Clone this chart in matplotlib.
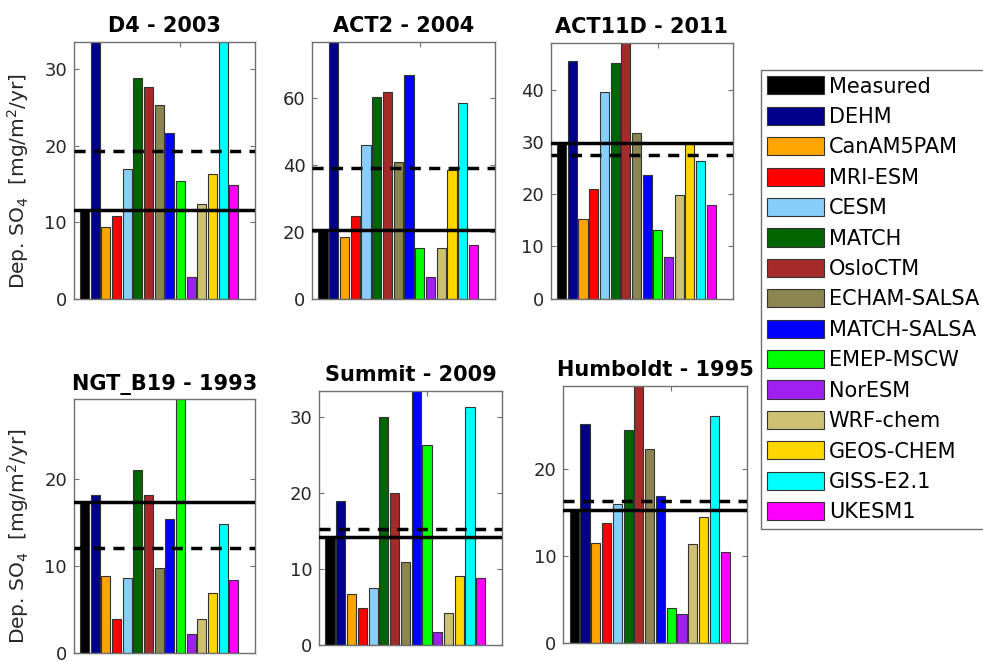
import numpy as np
import matplotlib.pyplot as plt
from matplotlib.patches import Patch

# DATA
sites = ["D4 - 2003", "ACT2 - 2004", "ACT11D - 2011",
         "NGT_B19 - 1993", "Summit - 2009", "Humboldt - 1995"]

models = ["DEHM", "CanAM5PAM", "MRI-ESM", "CESM", "MATCH", "OsloCTM",
          "ECHAM-SALSA", "MATCH-SALSA", "EMEP-MSCW", "NorESM", "WRF-chem",
          "GEOS-CHEM", "GISS-E2.1", "UKESM1"]

measured = [11.6, 20.5, 29.9, 17.4, 14.2, 15.2]

d4 = [33.5, 9.4, 10.8, 16.9, 28.8, 27.6, 25.3, 21.6, 15.4, 2.8, 12.4, 16.3, 33.5, 14.9]
act2 = [76.6, 18.4, 24.7, 45.9, 60.2, 61.7, 40.8, 66.9, 15.2, 6.4, 15.1, 38.4, 58.3, 16.1]
act11d = [45.6, 15.3, 21.1, 39.7, 45.3, 49.2, 31.8, 23.7, 13.2, 8.0, 19.8, 29.8, 26.4, 18.0]
ngt_b19 = [18.2, 8.9, 3.9, 8.7, 21.1, 18.2, 9.8, 15.4, 29.2, 2.2, 3.9, 6.9, 14.9, 8.4]
summit = [18.9, 6.75, 4.8, 7.5, 30.0, 20.0, 10.9, 33.4, 26.3, 1.75, 4.25, 9.0, 31.2, 8.76]
humboldt = [25.1, 11.5, 13.7, 15.9, 24.4, 29.5, 22.3, 16.9, 4.0, 3.3, 11.3, 14.4, 26.0, 10.4]

site_models = [d4, act2, act11d, ngt_b19, summit, humboldt]
yticks = [[0, 10, 20, 30], [0, 20, 40, 60], [0, 10, 20, 30, 40],
          [0, 10, 20], [0, 10, 20, 30], [0, 10, 20]]

colors = ["#000000", "#00008B", "#FFA500", "#FF0000", "#87CEFA", "#006400",
          "#A52A2A", "#8B8550", "#0000FF", "#00FF00", "#A020F0", "#CDC073",
          "#FFD700", "#00FFFF", "#FF00FF"]

# axes boxes in figure fractions [left, bottom, width, height]
positions = [[0.0753, 0.5477, 0.1841, 0.3888],
             [0.3177, 0.5477, 0.1859, 0.3888],
             [0.5605, 0.5484, 0.1848, 0.3873],
             [0.0753, 0.0117, 0.1841, 0.3843],
             [0.3248, 0.0242, 0.1862, 0.3847],
             [0.5731, 0.0277, 0.1866, 0.3883]]

fig = plt.figure(figsize=(9.83, 6.61), dpi=100)
box_col = "#707070"

for i, site in enumerate(sites):
    ax = fig.add_axes(positions[i])
    vals = [measured[i]] + site_models[i]
    x = np.arange(1, len(vals) + 1)
    ax.bar(x, vals, width=0.85, color=colors, edgecolor="#333333", linewidth=0.8, zorder=2)
    # measured value (solid) and model mean (dashed)
    ax.axhline(measured[i], color="black", lw=2.5, zorder=3)
    ax.axhline(np.mean(site_models[i]), color="black", lw=2.5,
               linestyle=(0, (3.2, 2.4)), zorder=3)
    ax.set_xlim(0, 17)
    ax.set_ylim(0, max(vals))
    ax.set_xticks([10])
    ax.set_xticklabels([])
    ax.set_yticks(yticks[i])
    ax.tick_params(direction="in", length=3.5, width=0.8, color=box_col,
                   top=True, right=True, labelsize=13, labelcolor="#262626", pad=5)
    for sp in ax.spines.values():
        sp.set_color(box_col)
        sp.set_linewidth(1.0)
    ax.set_title(site, fontsize=15, fontweight="bold", pad=7)
    if i % 3 == 0:
        ax.set_ylabel("Dep. SO$_4$  [mg/m$^2$/yr]", fontsize=14.5, color="#262626")
        ax.yaxis.set_label_coords(-0.24, 0.46)

handles = [Patch(facecolor=c, edgecolor="#333333", linewidth=0.8) for c in colors]
leg = fig.legend(handles, ["Measured"] + models, loc="upper left",
                 bbox_to_anchor=(0.774, 0.894), bbox_transform=fig.transFigure,
                 borderaxespad=0, fontsize=15, handlelength=2.74, handleheight=0.96,
                 handletextpad=0.22, labelspacing=0.49, borderpad=0.3,
                 fancybox=False, framealpha=1, edgecolor=box_col)
leg.get_frame().set_linewidth(1.0)

plt.savefig("out.png", dpi=100)
